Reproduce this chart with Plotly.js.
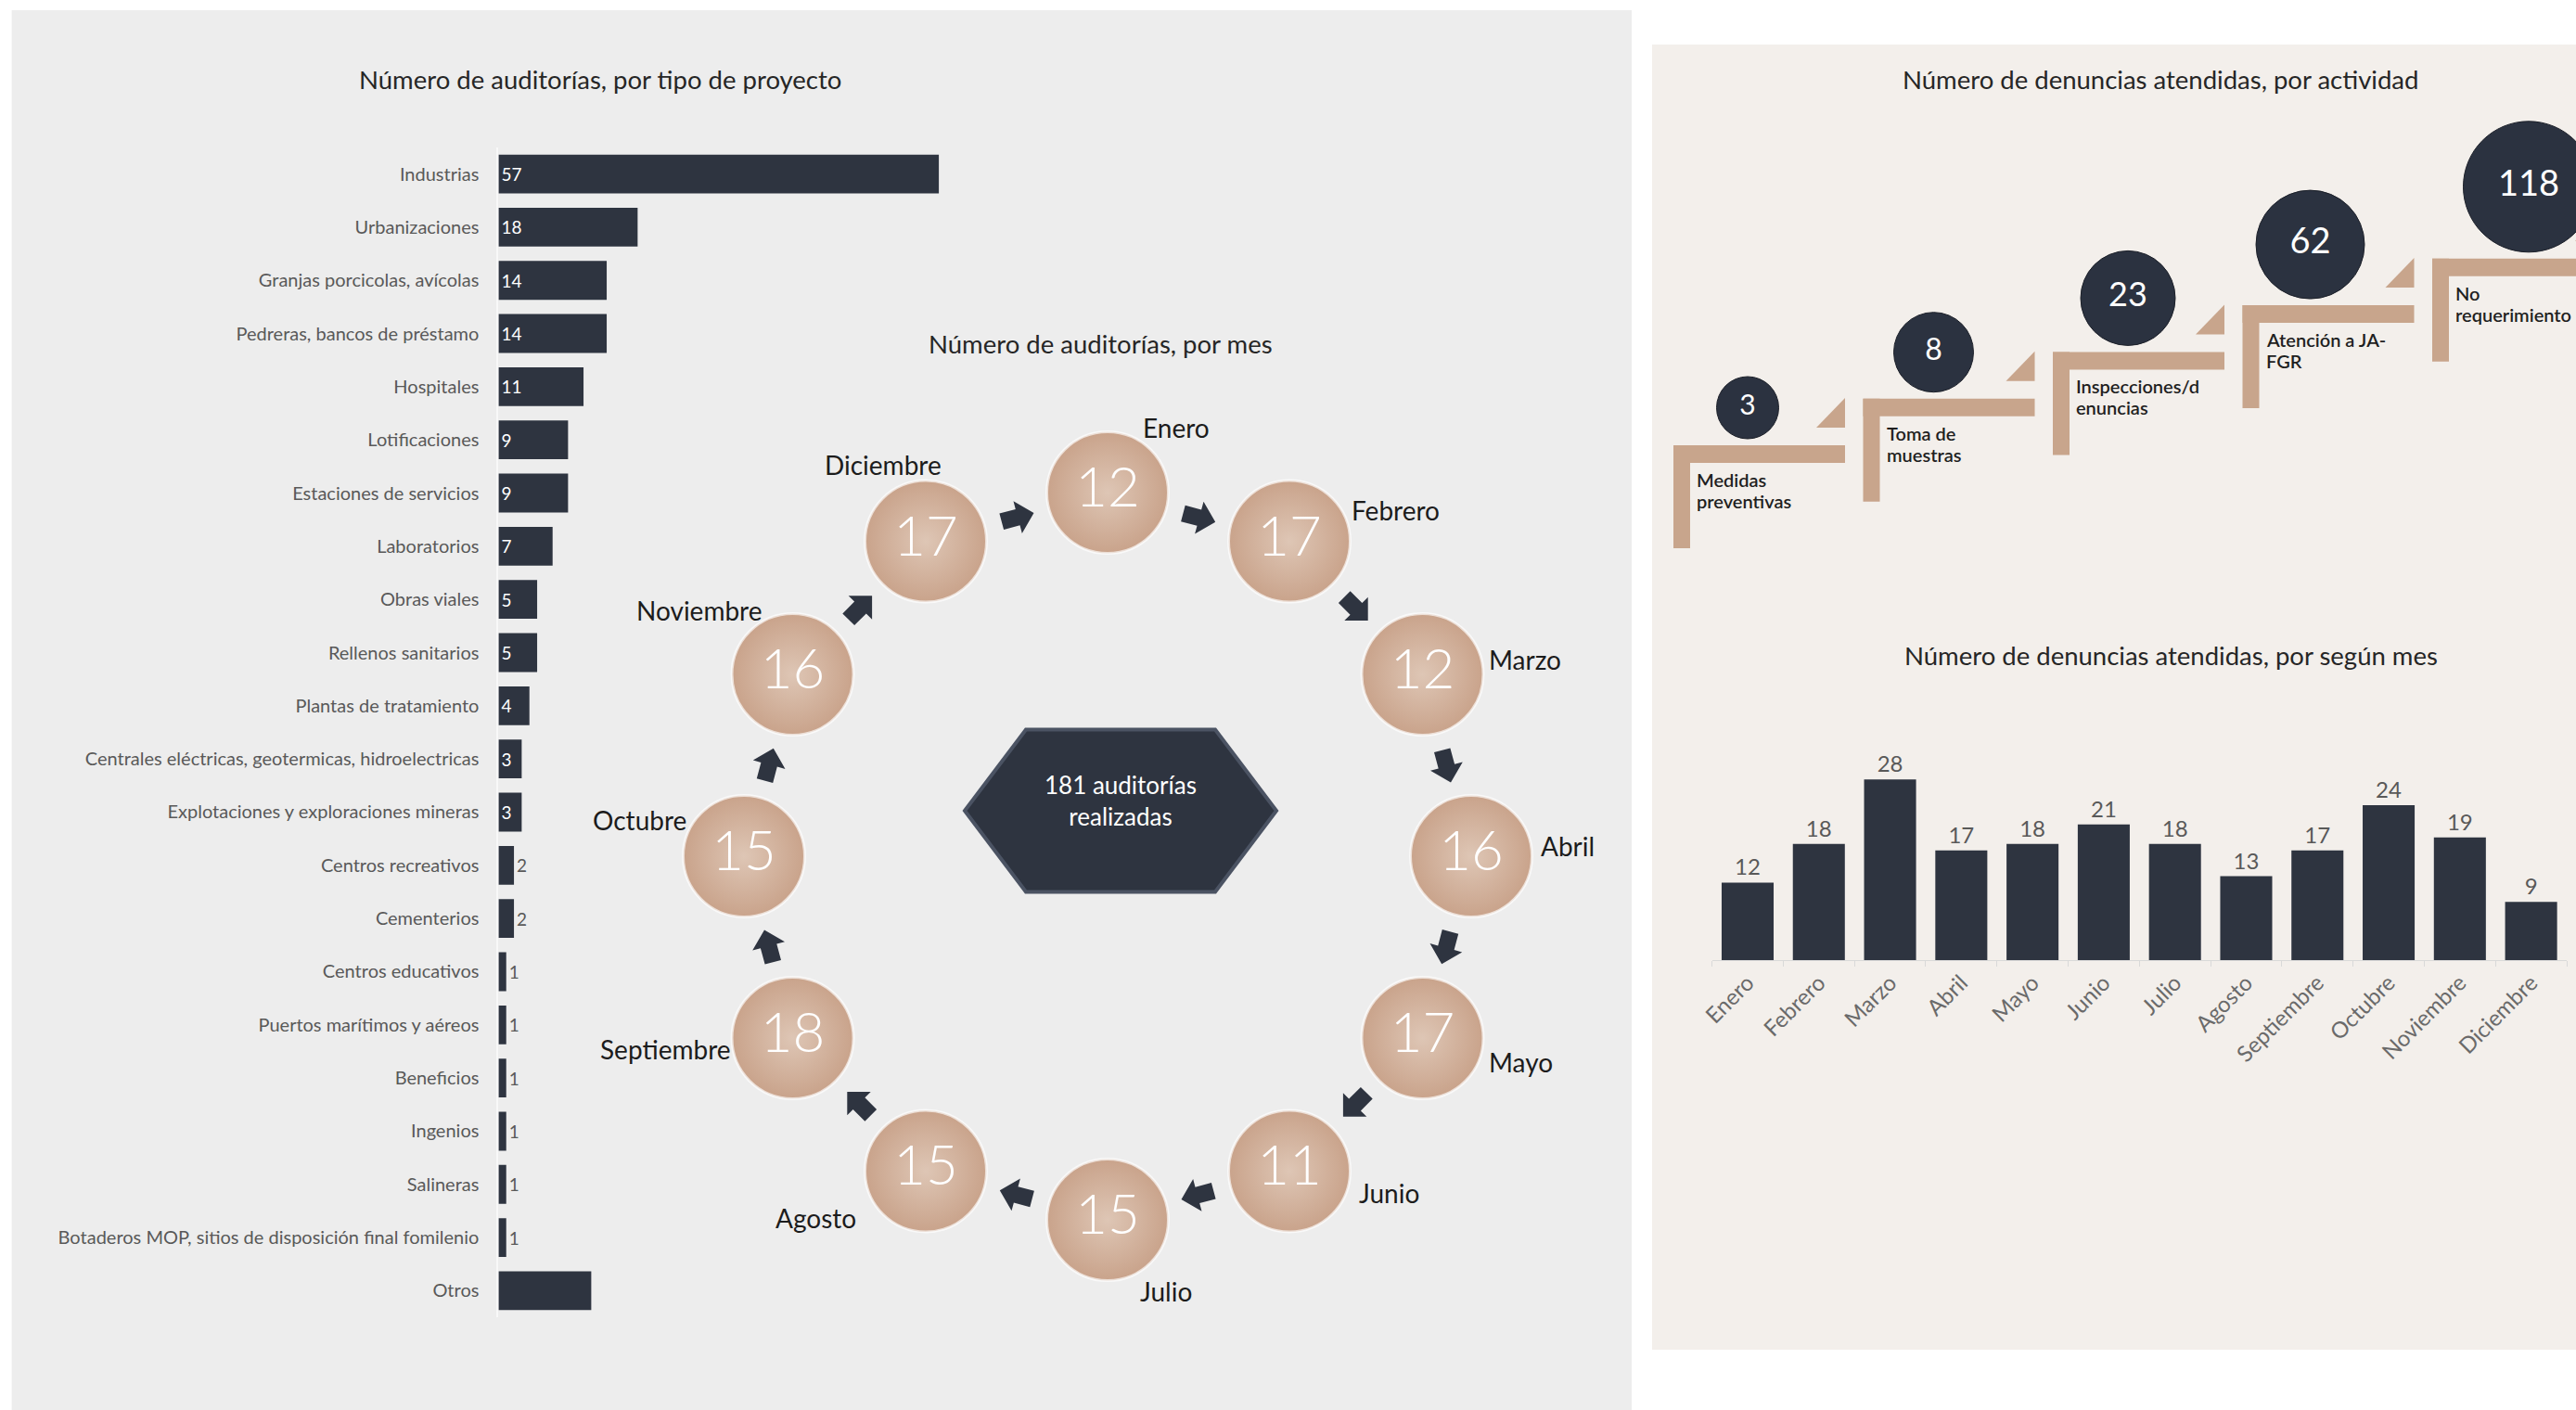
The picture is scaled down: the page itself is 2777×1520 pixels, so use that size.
<!DOCTYPE html>
<html><head><meta charset="utf-8">
<script src="https://cdn.plot.ly/plotly-3.0.1.min.js"></script>
<style>html,body{margin:0;padding:0;background:#fff;}#chart{width:2777px;height:1520px;}</style>
</head><body><div id="chart"></div>
<script>
// ---------------- DATA ----------------
const projectTypes = ["Industrias","Urbanizaciones","Granjas porcicolas, avícolas","Pedreras, bancos de préstamo","Hospitales","Lotificaciones","Estaciones de servicios","Laboratorios","Obras viales","Rellenos sanitarios","Plantas de tratamiento","Centrales eléctricas, geotermicas, hidroelectricas","Explotaciones y exploraciones mineras","Centros recreativos","Cementerios","Centros educativos","Puertos marítimos y aéreos","Beneficios","Ingenios","Salineras","Botaderos MOP, sitios de disposición final fomilenio","Otros"];
const projectAudits = [57,18,14,14,11,9,9,7,5,5,4,3,3,2,2,1,1,1,1,1,1,12];
const projectAuditLabels = ["57","18","14","14","11","9","9","7","5","5","4","3","3","2","2","1","1","1","1","1","1",""];

const auditMonths = ["Enero","Febrero","Marzo","Abril","Mayo","Junio","Julio","Agosto","Septiembre","Octubre","Noviembre","Diciembre"];
const auditsPerMonth = [12,17,12,16,17,11,15,15,18,15,16,17];

const activities = ["Medidas<br>preventivas","Toma de<br>muestras","Inspecciones/d<br>enuncias","Atención a JA-<br>FGR","No<br>requerimiento"];
const activityComplaints = [3,8,23,62,118];

const complaintMonths = ["Enero","Febrero","Marzo","Abril","Mayo","Junio","Julio","Agosto","Septiembre","Octubre","Noviembre","Diciembre"];
const complaintsPerMonth = [12,18,28,17,18,21,18,13,17,24,19,9];

// ---------------- STYLE / LAYOUT CONSTANTS ----------------
const W = 2777, H = 1520;
const px = x => x / W;
const py = y => 1 - y / H;
const DARK = '#2e3440', TAN = '#c8a58c', GRAY = '#595959', INK = '#262626';
const FONT = "Lato, 'Open Sans', 'Noto Sans', sans-serif";

// ring geometry (ring axes are 1 unit = 1 px, origin at ring centre)
const RING_R = 392, ARROW_R = 378, CIRCLE_D = 131;
const MONTH_LABEL_OFFSETS = [[74,-70],[114,-34],[111,-16],[104,-11],[106,26],[107,24],[63,77],[-119,51],[-137,12],[-113,-39],[-101,-69],[-46,-83]];

// staircase geometry (pixel axes)
const STEP_X0 = 1804, STEP_DX = 204.5, STEP_Y0 = 480, STEP_DY = -50.3;
const STEP_W = 185, STEP_T = 19, LEG_W = 18, LEG_H = 111;
const STEP_CIRCLE_DX = [80, 76, 81, 73, 104];
const STEP_CIRCLE_D = [67, 86, 102, 117, 141];
const STEP_CIRCLE_FONT = [30, 32, 36, 38, 38];

// ---------------- TRACES ----------------
const traces = [];

// 1) audits by project type
traces.push({
  type: 'bar', orientation: 'h', xaxis: 'x', yaxis: 'y',
  y: projectTypes, x: projectAudits,
  marker: {color: DARK},
  text: projectAuditLabels,
  textposition: projectAudits.map(v => v >= 3 ? 'inside' : 'outside'),
  insidetextanchor: 'start', textangle: 0, constraintext: 'none', cliponaxis: false,
  insidetextfont: {color: '#ffffff', size: 19, family: FONT},
  outsidetextfont: {color: GRAY, size: 19, family: FONT},
  hoverinfo: 'skip'
});

// 2) audits per month ring
const ringAng = auditMonths.map((m, i) => (90 - 30 * i) * Math.PI / 180);
const ringX = ringAng.map(a => RING_R * Math.cos(a));
const ringY = ringAng.map(a => RING_R * Math.sin(a));
traces.push({
  type: 'scatter', mode: 'markers+text', xaxis: 'x2', yaxis: 'y2',
  x: ringX, y: ringY,
  text: auditsPerMonth.map(String), textposition: 'middle center',
  textfont: {color: '#ffffff', size: 60, family: FONT, weight: 300},
  marker: {size: CIRCLE_D, color: '#c9a38b', line: {color: 'rgba(255,255,255,0.65)', width: 3},
           gradient: {type: 'radial', color: '#dec6b5'}},
  cliponaxis: false, hoverinfo: 'skip'
});

// 3) complaints by activity (staircase)
const stepLeft = i => STEP_X0 + i * STEP_DX;
const stepTop = i => STEP_Y0 + i * STEP_DY;
traces.push({
  type: 'scatter', mode: 'markers+text', xaxis: 'x3', yaxis: 'y3',
  x: activityComplaints.map((v, i) => stepLeft(i) + STEP_CIRCLE_DX[i]),
  y: activityComplaints.map((v, i) => stepTop(i) - STEP_CIRCLE_D[i] / 2 - 7),
  text: activityComplaints.map(String), textposition: 'middle center',
  textfont: {color: '#ffffff', size: STEP_CIRCLE_FONT, family: FONT},
  marker: {size: STEP_CIRCLE_D, color: '#2b3240', opacity: 1, line: {color: '#1c2029', width: 1}},
  hoverinfo: 'skip'
});

// 4) complaints per month
traces.push({
  type: 'bar', xaxis: 'x4', yaxis: 'y4',
  x: complaintMonths, y: complaintsPerMonth,
  marker: {color: DARK},
  text: complaintsPerMonth.map(String), textposition: 'outside',
  textfont: {color: GRAY, size: 24, family: FONT}, constraintext: 'none', cliponaxis: false,
  hoverinfo: 'skip'
});

// ---------------- SHAPES ----------------
const shapes = [];
// panels
shapes.push({type: 'rect', xref: 'paper', yref: 'paper', x0: px(12.6), x1: px(1759), y0: 0, y1: py(11), fillcolor: '#ededed', line: {width: 0}, layer: 'below'});
shapes.push({type: 'rect', xref: 'paper', yref: 'paper', x0: px(1781), x1: 1, y0: py(1455), y1: py(48), fillcolor: '#f3efeb', line: {width: 0}, layer: 'below'});

// ring arrows
function arrowPath(cx, cy, dirDeg) {
  const pts = [[-17,-9],[1,-9],[1,-18],[19,0],[1,18],[1,9],[-17,9]];
  const t = dirDeg * Math.PI / 180, c = Math.cos(t), s = Math.sin(t);
  return 'M' + pts.map(([x, y]) => (cx + x * c - y * s).toFixed(1) + ',' + (cy + x * s + y * c).toFixed(1)).join('L') + 'Z';
}
auditMonths.forEach((m, i) => {
  const phi = 90 - 30 * i - 15;
  const a = phi * Math.PI / 180;
  shapes.push({type: 'path', xref: 'x2', yref: 'y2', path: arrowPath(ARROW_R * Math.cos(a), ARROW_R * Math.sin(a), phi - 90),
               fillcolor: DARK, line: {width: 0}});
});
// central hexagon
(function () {
  const cx = 14, cy = 49, hw = 168, hh = 87.5, sl = 66;
  const pts = [[-hw,0],[-hw+sl,hh],[hw-sl,hh],[hw,0],[hw-sl,-hh],[-hw+sl,-hh]];
  shapes.push({type: 'path', xref: 'x2', yref: 'y2',
    path: 'M' + pts.map(([x, y]) => (cx + x) + ',' + (cy + y)).join('L') + 'Z',
    fillcolor: DARK, line: {color: '#4b5363', width: 4}});
})();

// staircase steps
activityComplaints.forEach((v, i) => {
  const L = stepLeft(i), T = stepTop(i);
  shapes.push({type: 'rect', xref: 'x3', yref: 'y3', x0: L, x1: L + STEP_W, y0: T, y1: T + STEP_T, fillcolor: TAN, line: {width: 0}, layer: 'below'});
  shapes.push({type: 'rect', xref: 'x3', yref: 'y3', x0: L, x1: L + LEG_W, y0: T, y1: T + LEG_H, fillcolor: TAN, line: {width: 0}, layer: 'below'});
  const R = L + STEP_W;
  shapes.push({type: 'path', xref: 'x3', yref: 'y3', path: `M${R-31},${T-19}L${R},${T-19}L${R},${T-51}Z`, fillcolor: TAN, line: {width: 0}, layer: 'below'});
});

// ---------------- ANNOTATIONS ----------------
const annotations = [];
const title = (text, x, y) => ({text, xref: 'paper', yref: 'paper', x: px(x), y: py(y), xanchor: 'center', yanchor: 'middle', showarrow: false, font: {size: 27.5, color: INK, family: FONT}});
annotations.push(title('Número de auditorías, por tipo de proyecto', 647, 85));
annotations.push(title('Número de auditorías, por mes', 1186, 370));
annotations.push(title('Número de denuncias atendidas, por actividad', 2329, 85));
annotations.push(title('Número de denuncias atendidas, por según mes', 2340, 706));

auditMonths.forEach((m, i) => {
  const [dx, dy] = MONTH_LABEL_OFFSETS[i];
  annotations.push({text: m, xref: 'x2', yref: 'y2', x: ringX[i], y: ringY[i], xshift: dx, yshift: -dy,
    showarrow: false, xanchor: 'center', yanchor: 'middle', font: {size: 28, color: '#1c1c1c', family: FONT}});
});
const totalAudits = auditsPerMonth.reduce((a, b) => a + b, 0);
annotations.push({text: totalAudits + ' auditorías<br>realizadas', xref: 'x2', yref: 'y2', x: 14, y: 60,
  showarrow: false, xanchor: 'center', yanchor: 'middle', font: {size: 26, color: '#ffffff', family: FONT}});

activities.forEach((a, i) => {
  a.split('<br>').forEach((line, k) => {
    annotations.push({text: line, xref: 'x3', yref: 'y3', x: stepLeft(i) + 23, y: stepTop(i) + 37 + 23 * k,
      showarrow: false, xanchor: 'left', yanchor: 'middle', align: 'left',
      font: {size: 20, color: '#1f1f1f', family: FONT, weight: 600}});
  });
});

// ---------------- LAYOUT ----------------
const layout = {
  width: W, height: H, margin: {l: 0, r: 0, t: 0, b: 0},
  paper_bgcolor: '#ffffff', plot_bgcolor: 'rgba(0,0,0,0)',
  showlegend: false, bargap: 0.27, font: {family: FONT},
  xaxis: {domain: [px(537.4), px(1012.3)], range: [0, 57], visible: false, fixedrange: true},
  yaxis: {domain: [py(1420.1), py(158.9)], type: 'category', categoryorder: 'array', categoryarray: projectTypes,
          autorange: 'reversed', showgrid: false, zeroline: false, showline: true, linecolor: '#f8f8f8', linewidth: 2,
          ticks: 'outside', ticklen: 15, tickcolor: 'rgba(0,0,0,0)', tickfont: {size: 20, color: GRAY, family: FONT}},
  xaxis2: {domain: [px(744), px(1644)], range: [-450, 450], visible: false, anchor: 'y2'},
  yaxis2: {domain: [py(1373), py(473)], range: [-450, 450], visible: false, anchor: 'x2'},
  xaxis3: {domain: [px(1782), 1], range: [1782, 2777], visible: false, anchor: 'y3'},
  yaxis3: {domain: [py(620), py(48)], range: [620, 48], visible: false, anchor: 'x3'},
  xaxis4: {domain: [px(1845.6), px(2767)], type: 'category', anchor: 'y4', showgrid: false, zeroline: false,
           showline: true, linecolor: '#d9d9d9', linewidth: 1, ticks: 'outside', tickson: 'boundaries', ticklen: 6,
           tickcolor: '#d9d9d9', tickangle: -45, tickfont: {size: 24, color: '#6a6a6a', family: FONT}},
  yaxis4: {domain: [py(1035), py(812.3)], range: [0, 32], visible: false, anchor: 'x4'},
  shapes, annotations
};

Plotly.newPlot('chart', traces, layout, {staticPlot: true, displayModeBar: false});
</script>
</body></html>
